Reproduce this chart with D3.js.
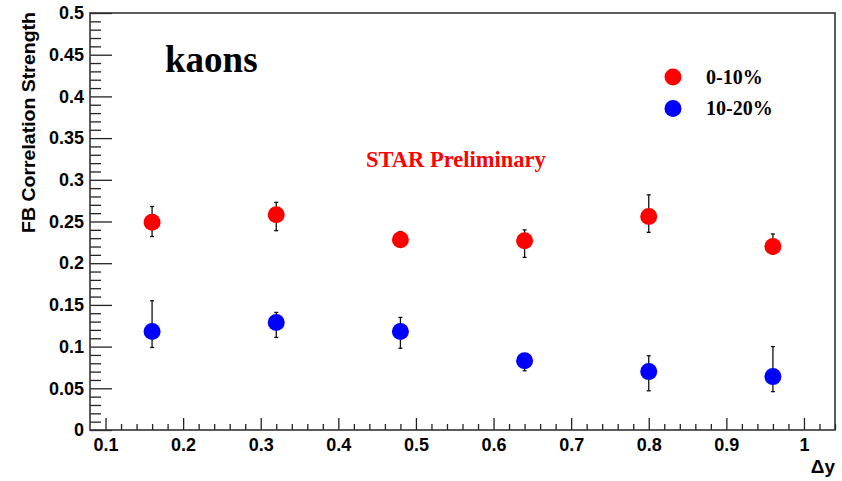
<!DOCTYPE html>
<html>
<head>
<meta charset="utf-8">
<script src="https://cdn.jsdelivr.net/npm/d3@7"></script>
<style>
  body { margin: 0; background: #fff; }
  svg { display: block; }
</style>
</head>
<body>
<svg id="chart" width="842" height="481"></svg>
<script>
// ---- data ----
const deltaY = [0.16, 0.32, 0.48, 0.64, 0.80, 0.96];
const central010 = [0.249, 0.258, 0.228, 0.227, 0.256, 0.220];
const errUp010   = [0.019, 0.015, 0.010, 0.013, 0.026, 0.015];
const errDown010 = [0.017, 0.019, 0.008, 0.020, 0.019, 0.009];
const central1020 = [0.118, 0.129, 0.118, 0.083, 0.070, 0.064];
const errUp1020   = [0.037, 0.012, 0.017, 0.006, 0.019, 0.036];
const errDown1020 = [0.019, 0.018, 0.020, 0.012, 0.023, 0.018];
const seriesNames = ["0-10%", "10-20%"];
const seriesColors = ["#ff0000", "#0000ff"];
const xTicks = [0.1, 0.2, 0.3, 0.4, 0.5, 0.6, 0.7, 0.8, 0.9, 1.0];
const yTicks = [0, 0.05, 0.1, 0.15, 0.2, 0.25, 0.3, 0.35, 0.4, 0.45, 0.5];

// ---- layout ----
const L = 90, R = 835, T = 13, B = 430;
const svg = d3.select("#chart");
const x = d3.scaleLinear().domain([0.08, 1.04]).range([L, R]);
const y = d3.scaleLinear().domain([0, 0.5]).range([B, T]);

const sansBold = "'Liberation Sans', Arial, sans-serif";
const serifBold = "'Liberation Serif', 'Times New Roman', serif";

// minor ticks
const xMinor = d3.range(0.10, 1.041, 0.02).map(v => +v.toFixed(2)).filter(v => !xTicks.some(t => Math.abs(t - v) < 1e-6));
const yMinor = d3.range(0.01, 0.5, 0.01).map(v => +v.toFixed(2)).filter(v => !yTicks.some(t => Math.abs(t - v) < 1e-6));

// x axis
const gx = svg.append("g").attr("transform", `translate(0,${B})`);
gx.call(d3.axisBottom(x).tickValues(xTicks).tickSizeInner(-12).tickSizeOuter(0).tickPadding(8)
  .tickFormat(d => d3.format("")(+d.toFixed(1))));
gx.select(".domain").remove();
gx.selectAll("line").attr("stroke", "#222").attr("stroke-width", 1.3);
gx.selectAll("text").attr("font-family", sansBold).attr("font-weight", "bold").attr("font-size", 18).attr("fill", "#000");

const gxm = svg.append("g").attr("transform", `translate(0,${B})`);
gxm.call(d3.axisBottom(x).tickValues(xMinor).tickSizeInner(-6).tickSizeOuter(0).tickFormat(""));
gxm.select(".domain").remove();
gxm.selectAll("line").attr("stroke", "#222").attr("stroke-width", 1.3);

// y axis
const gy = svg.append("g").attr("transform", `translate(${L},0)`);
gy.call(d3.axisLeft(y).tickValues(yTicks).tickSizeInner(-22).tickSizeOuter(0).tickPadding(6)
  .tickFormat(d => d3.format("")(+d.toFixed(2))));
gy.select(".domain").remove();
gy.selectAll("line").attr("stroke", "#222").attr("stroke-width", 1.3);
gy.selectAll("text").attr("font-family", sansBold).attr("font-weight", "bold").attr("font-size", 18).attr("fill", "#000");

const gym = svg.append("g").attr("transform", `translate(${L},0)`);
gym.call(d3.axisLeft(y).tickValues(yMinor).tickSizeInner(-11).tickSizeOuter(0).tickFormat(""));
gym.select(".domain").remove();
gym.selectAll("line").attr("stroke", "#222").attr("stroke-width", 1.3);

// frame
svg.append("rect").attr("x", L).attr("y", T).attr("width", R - L).attr("height", B - T)
  .attr("fill", "none").attr("stroke", "#333").attr("stroke-width", 1.6);

// axis titles
svg.append("text").attr("transform", "translate(35,233) rotate(-90)")
  .attr("font-family", sansBold).attr("font-weight", "bold").attr("font-size", 17.5)
  .attr("textLength", 221).attr("lengthAdjust", "spacingAndGlyphs")
  .text("FB Correlation Strength");
svg.append("text").attr("x", 835).attr("y", 473).attr("text-anchor", "end")
  .attr("font-family", sansBold).attr("font-weight", "bold").attr("font-size", 19)
  .text("Δy");

// data series
const series = [
  { name: seriesNames[0], color: seriesColors[0], vals: central010, up: errUp010, dn: errDown010 },
  { name: seriesNames[1], color: seriesColors[1], vals: central1020, up: errUp1020, dn: errDown1020 }
];

series.forEach(s => {
  const pts = deltaY.map((dx, i) => ({ x: dx, v: s.vals[i], hi: s.vals[i] + s.up[i], lo: s.vals[i] - s.dn[i] }));
  const g = svg.append("g");
  g.selectAll("line.err").data(pts).join("line").attr("class", "err")
    .attr("x1", d => x(d.x)).attr("x2", d => x(d.x))
    .attr("y1", d => y(d.hi)).attr("y2", d => y(d.lo))
    .attr("stroke", "#111").attr("stroke-width", 1.3);
  g.selectAll("line.capHi").data(pts).join("line").attr("class", "capHi")
    .attr("x1", d => x(d.x) - 2).attr("x2", d => x(d.x) + 2)
    .attr("y1", d => y(d.hi)).attr("y2", d => y(d.hi))
    .attr("stroke", "#111").attr("stroke-width", 1.3);
  g.selectAll("line.capLo").data(pts).join("line").attr("class", "capLo")
    .attr("x1", d => x(d.x) - 2).attr("x2", d => x(d.x) + 2)
    .attr("y1", d => y(d.lo)).attr("y2", d => y(d.lo))
    .attr("stroke", "#111").attr("stroke-width", 1.3);
  g.selectAll("circle").data(pts).join("circle")
    .attr("cx", d => x(d.x)).attr("cy", d => y(d.v)).attr("r", 8.5)
    .attr("fill", s.color);
});

// labels
svg.append("text").attr("x", 165).attr("y", 72)
  .attr("font-family", serifBold).attr("font-weight", "bold").attr("font-size", 37)
  .text("kaons");
svg.append("text").attr("x", 366).attr("y", 167)
  .attr("font-family", serifBold).attr("font-weight", "bold").attr("font-size", 22.5).attr("fill", "#ff0000")
  .text("STAR Preliminary");

// legend
const legend = svg.append("g");
series.forEach((s, i) => {
  const ly = 77 + i * 31.6;
  legend.append("circle").attr("cx", 673).attr("cy", ly).attr("r", 8.5).attr("fill", s.color);
  legend.append("text").attr("x", 706).attr("y", ly + 6.5)
    .attr("font-family", serifBold).attr("font-weight", "bold").attr("font-size", 20)
    .text(s.name);
});
</script>
</body>
</html>
